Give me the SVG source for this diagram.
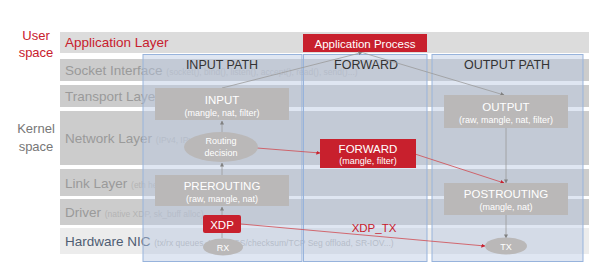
<svg xmlns="http://www.w3.org/2000/svg" width="606" height="272" viewBox="0 0 606 272">
<defs>
<style>
.bar{fill:#cccccc}
.lname{font-family:"Liberation Sans",Arial,sans-serif;font-size:13.5px;fill:#9a9a9a}
.lsub{font-family:"Liberation Sans",Arial,sans-serif;font-size:8.5px;fill:#b4b4b4}
.side{font-family:"Liberation Sans",Arial,sans-serif;font-size:13px;text-anchor:middle}
.panel{fill:rgb(184,200,227);fill-opacity:0.45;stroke:#97b3dc;stroke-width:1}
.ptitle{font-family:"Liberation Sans",Arial,sans-serif;font-size:12.5px;fill:#333;text-anchor:middle}
.gnode{fill:#bab8b8}
.rnode{fill:#c8202d}
.t1{font-family:"Liberation Sans",Arial,sans-serif;font-size:11.5px;fill:#fff;text-anchor:middle}
.t2{font-family:"Liberation Sans",Arial,sans-serif;font-size:9px;fill:#fff;text-anchor:middle}
.gl{stroke:#9a9a9a;stroke-width:0.8;fill:none}
.rl{stroke:#d04a50;stroke-width:0.8;fill:none}
</style>
<marker id="ag" viewBox="0 0 10 10" refX="9" refY="5" markerWidth="5" markerHeight="5" orient="auto"><path d="M0,0L10,5L0,10z" fill="#808080"/></marker>
<marker id="ar" viewBox="0 0 10 10" refX="9" refY="5" markerWidth="5" markerHeight="5" orient="auto"><path d="M0,0L10,5L0,10z" fill="#c8202d"/></marker>
</defs>
<rect width="606" height="272" fill="#fff"/>
<g id="side-labels">
<text class="side" x="36" y="40" fill="#c8202d">User</text>
<text class="side" x="36" y="57" fill="#c8202d">space</text>
<text class="side" x="36" y="133" fill="#777">Kernel</text>
<text class="side" x="36" y="151" fill="#777">space</text>
</g>
<g id="layers">
<rect x="60" y="32" width="529" height="21" fill="#dcdcdc"/>
<text x="65" y="47" font-family="Liberation Sans,Arial,sans-serif" font-size="13.5" fill="#c8202d">Application Layer</text>
<rect class="bar" x="60" y="59" width="529" height="22"/>
<text class="lname" x="65" y="75">Socket Interface <tspan class="lsub">(socket(), bind(), listen(), accept(), read(), send()...)</tspan></text>
<rect class="bar" x="60" y="85" width="529" height="22"/>
<text class="lname" x="65" y="101">Transport Layer</text>
<rect class="bar" x="60" y="111" width="529" height="54"/>
<text class="lname" x="65" y="143">Network Layer <tspan class="lsub">(IPv4, IPv6)</tspan></text>
<rect class="bar" x="60" y="169" width="529" height="27"/>
<text class="lname" x="65" y="188">Link Layer <tspan class="lsub">(eth header)</tspan></text>
<rect class="bar" x="60" y="199" width="529" height="26"/>
<text class="lname" x="65" y="217">Driver <tspan class="lsub">(native XDP, sk_buff alloc)</tspan></text>
<rect x="60" y="228" width="529" height="26" fill="#ececec"/>
<text x="65" y="246" font-family="Liberation Sans,Arial,sans-serif" font-size="13.5" fill="#4f5d73">Hardware NIC <tspan class="lsub" font-size="9.4">(tx/rx queues, XDP/RSS/checksum/TCP Seg offload, SR-IOV...)</tspan></text>
</g>
<g id="panels">
<rect class="panel" x="143" y="54.5" width="159" height="207"/>
<rect class="panel" x="303.5" y="54.5" width="123.5" height="207"/>
<rect class="panel" x="432" y="54.5" width="151" height="207"/>
<text class="ptitle" x="222" y="69">INPUT PATH</text>
<text class="ptitle" x="366" y="69">FORWARD</text>
<text class="ptitle" x="507" y="69">OUTPUT PATH</text>
</g>
<g id="app-process">
<rect class="rnode" x="303" y="34" width="124" height="18"/>
<text class="t1" x="365" y="47.5" font-size="12">Application Process</text>
</g>
<g id="connectors">
<path class="gl" d="M222,238V233"/>
<path class="gl" d="M222,215V207" marker-end="url(#ag)"/>
<path class="gl" d="M222,175V163" marker-end="url(#ag)"/>
<path class="gl" d="M222,132V121" marker-end="url(#ag)"/>
<path class="gl" d="M222,88L362,52.5" marker-end="url(#ag)"/>
<path class="gl" d="M362,52.5L504,95" marker-end="url(#ag)"/>
<path class="gl" d="M506,128V183" marker-end="url(#ag)"/>
<path class="gl" d="M506,215V238" marker-end="url(#ag)"/>
<path class="rl" d="M257,148L320,153" marker-end="url(#ar)"/>
<path class="rl" d="M415,154L504,183" marker-end="url(#ar)"/>
<path class="rl" d="M241,224L485,246" marker-end="url(#ar)"/>
<text x="374" y="232" font-family="Liberation Sans,Arial,sans-serif" font-size="11.5" fill="#c8202d" text-anchor="middle">XDP_TX</text>
</g>
<g id="input">
<rect class="gnode" x="155" y="88" width="134" height="32"/>
<text class="t1" x="222" y="104">INPUT</text>
<text class="t2" x="222" y="116">(mangle, nat, filter)</text>
</g>
<g id="routing-decision">
<ellipse class="gnode" cx="221" cy="147" rx="37" ry="15"/>
<text class="t2" x="221" y="144">Routing</text>
<text class="t2" x="221" y="156">decision</text>
</g>
<g id="prerouting">
<rect class="gnode" x="155" y="175" width="134" height="31"/>
<text class="t1" x="222" y="190">PREROUTING</text>
<text class="t2" x="222" y="202">(raw, mangle, nat)</text>
</g>
<g id="xdp">
<rect class="rnode" x="203" y="215" width="38" height="18" rx="2"/>
<text class="t1" x="222" y="228.5" font-size="12">XDP</text>
</g>
<g id="rx">
<ellipse class="gnode" cx="223" cy="247" rx="20" ry="8.5"/>
<text class="t2" x="223" y="251" font-size="10">RX</text>
</g>
<g id="forward">
<rect class="rnode" x="320" y="139" width="96" height="29"/>
<text class="t1" x="368" y="153">FORWARD</text>
<text class="t2" x="368" y="164">(mangle, filter)</text>
</g>
<g id="output">
<rect class="gnode" x="444" y="95" width="124" height="33"/>
<text class="t1" x="506" y="111">OUTPUT</text>
<text class="t2" x="506" y="123">(raw, mangle, nat, filter)</text>
</g>
<g id="postrouting">
<rect class="gnode" x="444" y="183" width="124" height="32"/>
<text class="t1" x="506" y="198">POSTROUTING</text>
<text class="t2" x="506" y="210">(mangle, nat)</text>
</g>
<g id="tx">
<ellipse class="gnode" cx="506" cy="246" rx="21" ry="8.5"/>
<text class="t2" x="506" y="250" font-size="10">TX</text>
</g>
</svg>
